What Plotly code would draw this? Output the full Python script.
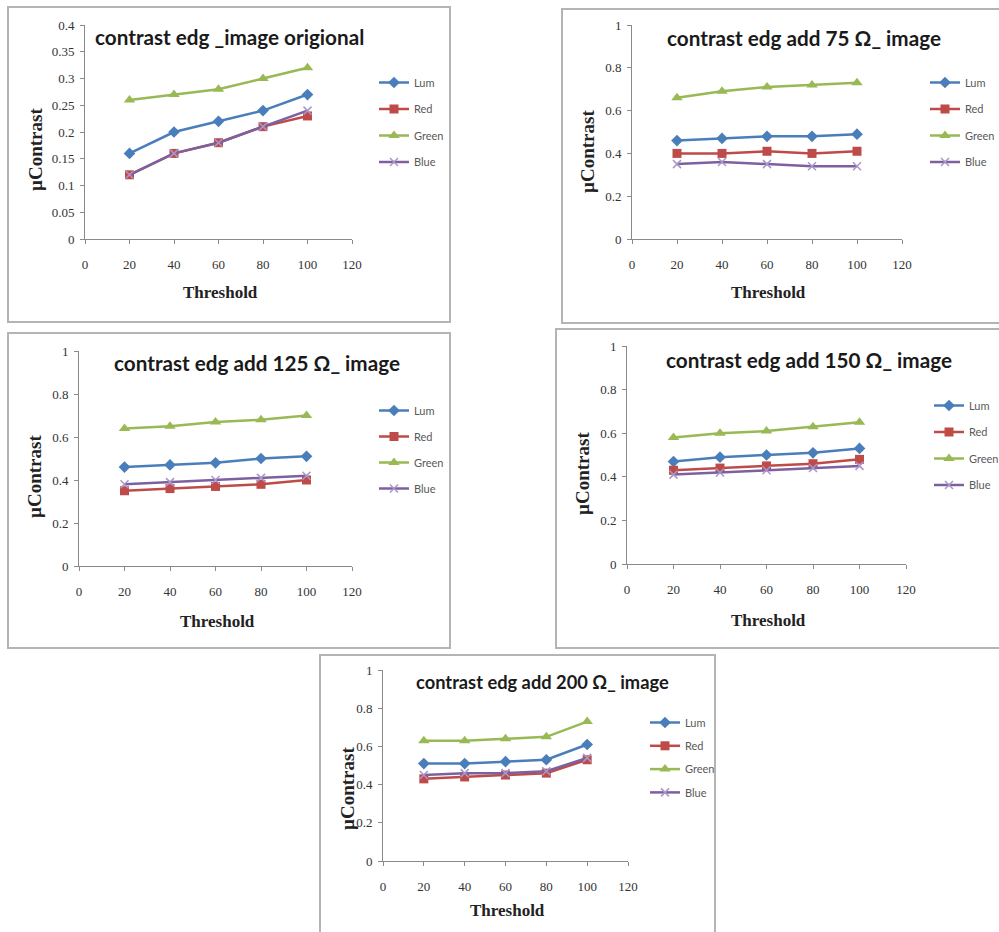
import plotly.graph_objects as go

W, H = 999, 932

thresholds = [20, 40, 60, 80, 100]
series_names = ["Lum", "Red", "Green", "Blue"]
panel_titles = [
    "contrast edg _image origional",
    "contrast edg add 75 Ω_ image",
    "contrast edg add 125 Ω_ image",
    "contrast edg add 150 Ω_ image",
    "contrast edg add 200 Ω_ image",
]
x_title = "Threshold"
y_title = "µContrast"

# panel 1: original image
orig_lum = [0.16, 0.20, 0.22, 0.24, 0.27]
orig_red = [0.12, 0.16, 0.18, 0.21, 0.23]
orig_green = [0.26, 0.27, 0.28, 0.30, 0.32]
orig_blue = [0.12, 0.16, 0.18, 0.21, 0.24]
# panel 2: add 75 ohm
o75_lum = [0.46, 0.47, 0.48, 0.48, 0.49]
o75_red = [0.40, 0.40, 0.41, 0.40, 0.41]
o75_green = [0.66, 0.69, 0.71, 0.72, 0.73]
o75_blue = [0.35, 0.36, 0.35, 0.34, 0.34]
# panel 3: add 125 ohm
o125_lum = [0.46, 0.47, 0.48, 0.50, 0.51]
o125_red = [0.35, 0.36, 0.37, 0.38, 0.40]
o125_green = [0.64, 0.65, 0.67, 0.68, 0.70]
o125_blue = [0.38, 0.39, 0.40, 0.41, 0.42]
# panel 4: add 150 ohm
o150_lum = [0.47, 0.49, 0.50, 0.51, 0.53]
o150_red = [0.43, 0.44, 0.45, 0.46, 0.48]
o150_green = [0.58, 0.60, 0.61, 0.63, 0.65]
o150_blue = [0.41, 0.42, 0.43, 0.44, 0.45]
# panel 5: add 200 ohm
o200_lum = [0.51, 0.51, 0.52, 0.53, 0.61]
o200_red = [0.43, 0.44, 0.45, 0.46, 0.53]
o200_green = [0.63, 0.63, 0.64, 0.65, 0.73]
o200_blue = [0.45, 0.46, 0.46, 0.47, 0.54]

panel_data = [
    [orig_lum, orig_red, orig_green, orig_blue],
    [o75_lum, o75_red, o75_green, o75_blue],
    [o125_lum, o125_red, o125_green, o125_blue],
    [o150_lum, o150_red, o150_green, o150_blue],
    [o200_lum, o200_red, o200_green, o200_blue],
]
y_max = [0.4, 1, 1, 1, 1]
y_dtick = [0.05, 0.2, 0.2, 0.2, 0.2]

# ---- layout geometry (pixels) ----
# plot area: x0, x1, ytop, ybottom
areas = [
    (85, 352, 25, 239),
    (632, 902, 25, 239),
    (79, 352, 351, 566),
    (627, 906, 346, 564),
    (383, 628, 670, 861),
]
boxes = [
    (8, 7, 450, 322),
    (562, 9, 1010, 323),
    (8, 333, 450, 648),
    (556, 329, 1010, 648),
    (320, 655, 715, 945),
]
title_pos = [(229, 37, 20.7), (804, 38, 20.7), (257, 363, 20.7), (809, 360, 20.7), (542, 682, 18.3)]
xtitle_pos = [(220, 293), (768, 293), (217, 621), (768, 620), (507, 910)]
ytitle_pos = [(35, 150), (588, 152), (35, 477), (583, 474), (347, 789)]
legend_pos = [(374, 68, 7.5), (925, 68, 7.5), (374, 396, 7), (929, 391, 7.5), (645, 708, 4.3)]

styles = {
    "Lum": dict(color="#4a7ebb", symbol="diamond", size=9),
    "Red": dict(color="#be4b48", symbol="square", size=9),
    "Green": dict(color="#98b954", symbol="triangle-up", size=10),
    "Blue": dict(color="#7d60a0", symbol="x-thin", size=8),
}


def px(x):
    return x / W


def py(y):
    return 1 - y / H


fig = go.Figure()
axis_color = "#8a8a8a"
tick_font = dict(family="Liberation Serif", size=13, color="#333333")

for i in range(5):
    sfx = "" if i == 0 else str(i + 1)
    leg = "legend" if i == 0 else f"legend{i + 1}"
    for name, vals in zip(series_names, panel_data[i]):
        st = styles[name]
        marker = dict(symbol=st["symbol"], size=st["size"], color=st["color"])
        if name == "Blue":
            marker["line"] = dict(width=1.5, color="#a996c8")
        fig.add_trace(go.Scatter(
            x=thresholds, y=vals, name=name, mode="lines+markers",
            line=dict(color=st["color"], width=2.5), marker=marker,
            xaxis="x" + sfx, yaxis="y" + sfx, legend=leg,
            legendgroup=f"p{i}{name}",
        ))
    x0, x1, yt, yb = areas[i]
    common = dict(showline=True, linecolor=axis_color, linewidth=1, ticks="outside",
                  tickcolor=axis_color, ticklen=4, showgrid=False, zeroline=False,
                  tickfont=tick_font, fixedrange=True, automargin=False)
    fig.layout["xaxis" + sfx] = dict(domain=[px(x0), px(x1)], range=[0, 120], dtick=20,
                                     anchor="y" + sfx, ticklabelstandoff=9, **common)
    fig.layout["yaxis" + sfx] = dict(domain=[py(yb), py(yt)], range=[0, y_max[i]],
                                     dtick=y_dtick[i], anchor="x" + sfx,
                                     ticklabelstandoff=3, **common)
    lx, ly, gap = legend_pos[i]
    fig.layout[leg] = dict(x=px(lx), y=py(ly), xanchor="left", yanchor="top",
                           bgcolor="rgba(0,0,0,0)", traceorder="grouped",
                           tracegroupgap=gap, itemwidth=30,
                           font=dict(family="Lato", size=11, color="#595959"))
    bx0, by0, bx1, by1 = boxes[i]
    fig.add_shape(type="rect", xref="paper", yref="paper",
                  x0=px(bx0), x1=px(bx1), y0=py(by1), y1=py(by0),
                  line=dict(color="#b4b4b4", width=2), layer="below")
    tx, ty, ts = title_pos[i]
    fig.add_annotation(x=px(tx), y=py(ty), xref="paper", yref="paper",
                       xanchor="center", yanchor="middle",
                       text=f"<b>{panel_titles[i]}</b>", showarrow=False,
                       font=dict(family="Lato", size=ts, color="#1a1a1a"))
    ax, ay = xtitle_pos[i]
    fig.add_annotation(x=px(ax), y=py(ay), xref="paper", yref="paper",
                       xanchor="center", yanchor="middle",
                       text=f"<b>{x_title}</b>", showarrow=False,
                       font=dict(family="Liberation Serif", size=17, color="#222222"))
    yx, yy = ytitle_pos[i]
    fig.add_annotation(x=px(yx), y=py(yy), xref="paper", yref="paper",
                       xanchor="center", yanchor="middle",
                       text=f"<b>{y_title}</b>", showarrow=False, textangle=-90,
                       font=dict(family="Liberation Serif", size=19, color="#222222"))

fig.update_layout(width=W, height=H,
                  margin=dict(l=0, r=0, t=0, b=0, pad=0, autoexpand=False),
                  paper_bgcolor="white", plot_bgcolor="rgba(0,0,0,0)",
                  showlegend=True)
fig.write_html("out.html")
